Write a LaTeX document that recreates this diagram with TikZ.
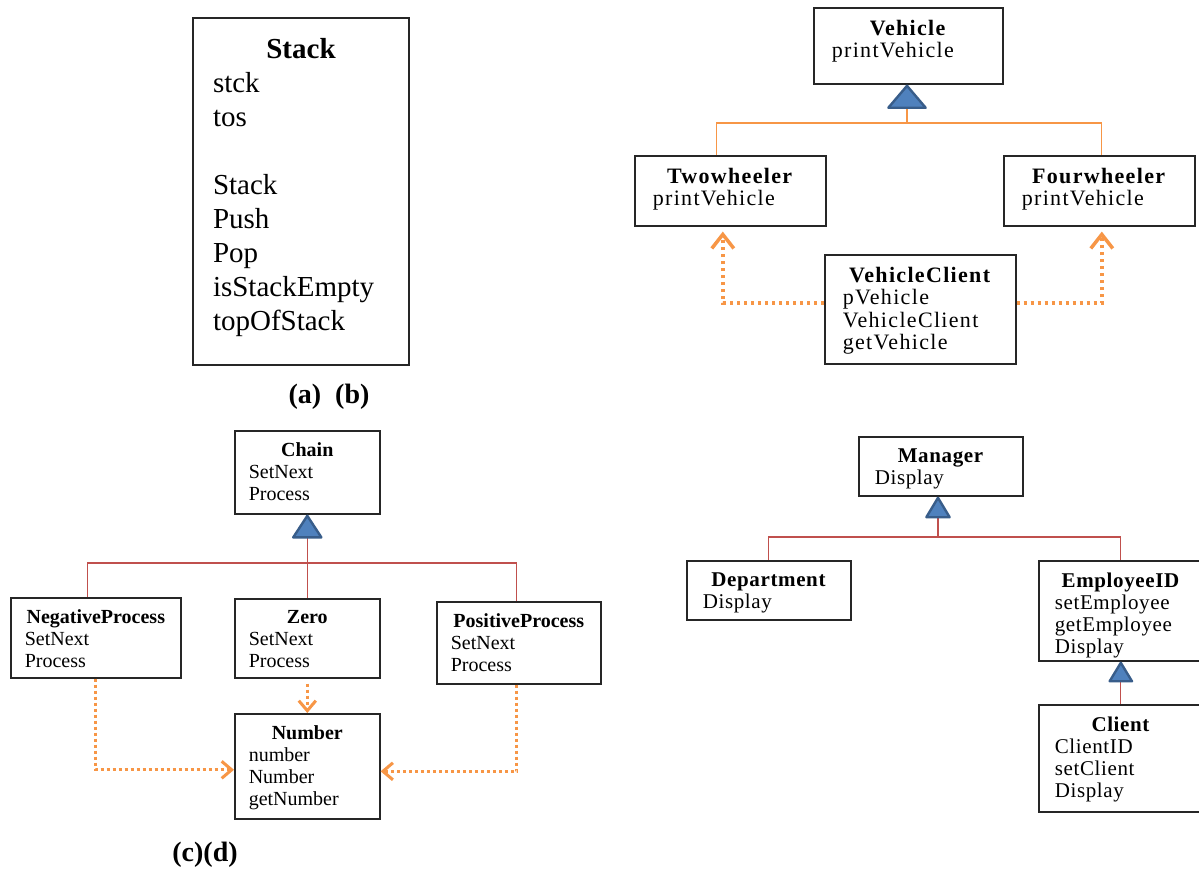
\documentclass[tikz,border=0pt]{standalone}
\usepackage{fontspec}
\setmainfont{Liberation Serif}
\usetikzlibrary{arrows.meta}

\definecolor{linkorange}{HTML}{F79646}
\definecolor{linkred}{HTML}{C0504D}
\definecolor{triblue}{HTML}{4F81BD}
\definecolor{triedge}{HTML}{385D8A}

% class body: width, height, title, members
\newcommand{\clstext}[4]{\parbox[c][#2][t]{#1}{\centering\textbf{#3}\par\raggedright #4}}

\tikzset{
  clsbox/.style={draw=black!85, line width=0.8pt, anchor=north west},
  stackbox/.style={clsbox, line width=1pt, inner sep=10pt, font=\fontsize{14.5}{17}\selectfont},
  vehbox/.style={clsbox, inner xsep=9pt, inner ysep=6pt, font=\fontsize{11}{11.25}\selectfont\addfontfeatures{LetterSpace=6}},
  cbox/.style={clsbox, inner xsep=7pt, inner ysep=6pt, font=\fontsize{10}{11}\selectfont},
  dbox/.style={clsbox, inner xsep=8pt, inner ysep=6pt, font=\fontsize{10.5}{11}\selectfont\addfontfeatures{LetterSpace=3}},
  caption/.style={font=\fontsize{14}{16}\selectfont\bfseries},
  orline/.style={draw=linkorange, line width=0.6pt},
  redline/.style={draw=linkred, line width=0.6pt},
  inh/.style 2 args={-{Triangle[length=#1, width=#2, fill=triblue, color=triedge, line width=1.2pt, round]}},
  dep/.style={draw=linkorange, line width=1.75pt, dash pattern=on 1.75pt off 1.75pt, -{Straight Barb[length=7pt, width=11pt]}},
  depc/.style={draw=linkorange, line width=1.5pt, dash pattern=on 1.5pt off 1.5pt, -{Straight Barb[length=5pt, width=8.5pt]}}
}

\begin{document}
\begin{tikzpicture}[x=0.5pt, y=-0.5pt]

\fill[white] (0,0) rectangle (1199,868);
\useasboundingbox (0,0) rectangle (1199,868);

% (a) Stack
\node[stackbox] (stack) at (192,17) {\clstext{88pt}{153.5pt}{Stack}{stck\\tos\\[17pt]Stack\\Push\\Pop\\isStackEmpty\\topOfStack}};
\node[caption] (capab) at (329,397) {(a)~~(b)};

% (b) Vehicle
\node[vehbox] (vehicle) at (813,7) {\clstext{76.5pt}{26pt}{Vehicle}{printVehicle}};
\node[vehbox] (twowheeler) at (634,155) {\clstext{77.5pt}{23pt}{Twowheeler}{printVehicle}};
\node[vehbox] (fourwheeler) at (1003,155) {\clstext{77.5pt}{23pt}{Fourwheeler}{printVehicle}};
\node[vehbox] (vclient) at (824,254) {\clstext{77.5pt}{42.5pt}{VehicleClient}{pVehicle\\VehicleClient\\getVehicle}};

\coordinate (vjoin) at (907,123);
\draw[orline] ([xshift=-6.75pt]twowheeler.north) |- (vjoin) -| ([xshift=1.25pt]fourwheeler.north);
\draw[orline, inh={12.5pt}{21pt}] (vjoin) -- (vjoin |- vehicle.south);
\draw[dep] ([yshift=3.25pt]vclient.west) -| ([xshift=-3.75pt, yshift=-2.5pt]twowheeler.south);
\draw[dep] ([yshift=3.25pt]vclient.east) -| ([xshift=1.25pt, yshift=-2.5pt]fourwheeler.south);

% (c) Chain
\node[cbox] (chain) at (234,430) {\clstext{58.5pt}{29.5pt}{Chain}{SetNext\\Process}};
\node[cbox] (negproc) at (10,597) {\clstext{71pt}{28pt}{NegativeProcess}{SetNext\\Process}};
\node[cbox] (zero) at (234,598) {\clstext{58.5pt}{27.5pt}{Zero}{SetNext\\Process}};
\node[cbox] (posproc) at (436,601) {\clstext{68pt}{29pt}{PositiveProcess}{SetNext\\Process}};
\node[cbox] (number) at (234,713) {\clstext{58.5pt}{40.5pt}{Number}{number\\Number\\getNumber}};
\node[caption] (capcd) at (205,855) {(c)(d)};

\coordinate (cjoin) at (306.5,563);
\draw[redline, inh={12.5pt}{16pt}] (zero.north) -- (chain.south);
\draw[redline] ([xshift=-4pt]negproc.north) |- (cjoin) -| ([xshift=-1pt]posproc.north);
\draw[depc] ([yshift=-2.5pt]zero.south) -- (number.north);
\draw[depc] (negproc.south) |- ([yshift=-1.75pt]number.west);
\draw[depc] ([xshift=-1pt]posproc.south) |- ([yshift=-2.5pt]number.east);

% (d) Manager
\node[dbox] (manager) at (858,436) {\clstext{66pt}{17.5pt}{Manager}{Display}};
\node[dbox] (department) at (686,560) {\clstext{66pt}{17.5pt}{Department}{Display}};
\node[dbox] (employee) at (1038,560) {\clstext{66pt}{38pt}{EmployeeID}{setEmployee\\getEmployee\\Display}};
\node[dbox] (client) at (1038,704) {\clstext{66pt}{41.5pt}{Client}{ClientID\\setClient\\Display}};

\coordinate (mjoin) at (938,537);
\draw[redline, inh={11.5pt}{13.5pt}] (mjoin) -- (mjoin |- manager.south);
\draw[redline] (department.north) |- (mjoin) -| (employee.north);
\draw[redline, inh={11pt}{13pt}] (client.north) -- (employee.south);

\end{tikzpicture}
\end{document}
